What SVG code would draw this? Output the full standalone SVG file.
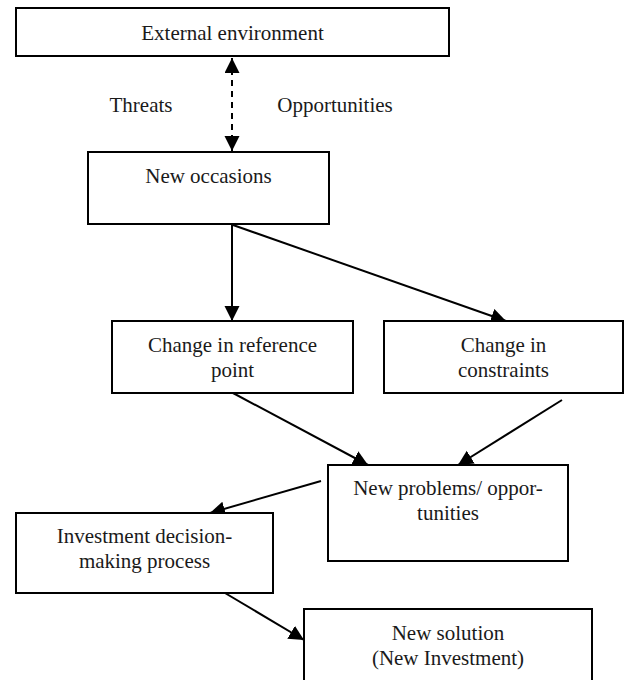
<svg xmlns="http://www.w3.org/2000/svg" width="625" height="680" viewBox="0 0 625 680">
<style>
rect.box{fill:#fff;stroke:#000;stroke-width:2}
text{font-family:'Liberation Serif','Times New Roman',serif;font-size:21px;fill:#1a1a1a;text-anchor:middle}
.c{stroke:#000;stroke-width:2;fill:none}
.dash{stroke-dasharray:6,5}
</style>
<defs>
<marker id="ah" markerUnits="userSpaceOnUse" markerWidth="16" markerHeight="16" refX="15" refY="7.5" orient="auto-start-reverse" viewBox="0 0 16 16">
<path d="M0,0 L15,7.5 L0,15 z" fill="#000"/>
</marker>
</defs>
<rect width="625" height="680" fill="#fff"/>
<g id="connectors">
<line class="c dash" x1="232" y1="58" x2="232" y2="151" marker-start="url(#ah)" marker-end="url(#ah)"/>
<line class="c" x1="232" y1="225" x2="232" y2="321" marker-end="url(#ah)"/>
<line class="c" x1="233" y1="225" x2="506" y2="321" marker-end="url(#ah)"/>
<line class="c" x1="233" y1="393" x2="368" y2="465" marker-end="url(#ah)"/>
<line class="c" x1="562" y1="400" x2="458" y2="465" marker-end="url(#ah)"/>
<line class="c" x1="321" y1="481" x2="210" y2="513" marker-end="url(#ah)"/>
<line class="c" x1="225" y1="593" x2="304" y2="640" marker-end="url(#ah)"/>
</g>
<g id="labels">
<text x="141" y="112">Threats</text>
<text x="335" y="112">Opportunities</text>
</g>
<g id="external">
<rect class="box" x="16" y="8" width="433" height="48"/>
<text x="232.5" y="40">External environment</text>
</g>
<g id="occasions">
<rect class="box" x="88" y="152" width="241" height="72"/>
<text x="208.5" y="183">New occasions</text>
</g>
<g id="reference">
<rect class="box" x="112" y="321" width="241" height="72"/>
<text x="232.5" y="352">Change in reference</text>
<text x="232.5" y="377">point</text>
</g>
<g id="constraints">
<rect class="box" x="384" y="321" width="239" height="72"/>
<text x="503.5" y="352">Change in</text>
<text x="503.5" y="377">constraints</text>
</g>
<g id="problems">
<rect class="box" x="328" y="465" width="240" height="96"/>
<text x="448" y="495">New problems/ oppor-</text>
<text x="448" y="520">tunities</text>
</g>
<g id="investment">
<rect class="box" x="16" y="513" width="257" height="80"/>
<text x="144.5" y="543">Investment decision-</text>
<text x="144.5" y="568">making process</text>
</g>
<g id="solution">
<rect class="box" x="304" y="609" width="288" height="100"/>
<text x="448" y="640">New solution</text>
<text x="448" y="665">(New Investment)</text>
</g>
</svg>
